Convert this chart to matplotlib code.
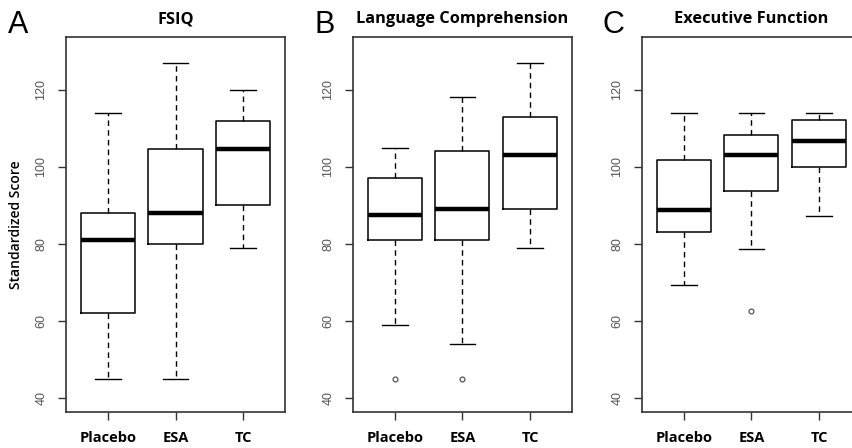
import numpy as np
import matplotlib.pyplot as plt

# Box statistics (whisker low, Q1, median, Q3, whisker high)
groups = ['Placebo', 'ESA', 'TC']
titles = ['FSIQ', 'Language Comprehension', 'Executive Function']
letters = ['A', 'B', 'C']

fsiq_low = [45, 45, 79]
fsiq_q1 = [62, 80, 90]
fsiq_med = [81, 88, 104.5]
fsiq_q3 = [88, 104.5, 112]
fsiq_high = [114, 127, 120]
fsiq_out = [[], [], []]

lang_low = [59, 54, 79]
lang_q1 = [81, 81, 89]
lang_med = [87.5, 89, 103]
lang_q3 = [97, 104, 113]
lang_high = [105, 118, 127]
lang_out = [[45], [45], []]

exec_low = [69.4, 78.6, 87.2]
exec_q1 = [83, 93.8, 100]
exec_med = [88.7, 103, 106.6]
exec_q3 = [101.7, 108.2, 112.2]
exec_high = [114, 114, 114]
exec_out = [[], [62.6], []]

panels = [
    (fsiq_low, fsiq_q1, fsiq_med, fsiq_q3, fsiq_high, fsiq_out),
    (lang_low, lang_q1, lang_med, lang_q3, lang_high, lang_out),
    (exec_low, exec_q1, exec_med, exec_q3, exec_high, exec_out),
]

lefts = [0.0774, 0.4138, 0.7526]
letter_x = [0.0094, 0.369, 0.706]

fig = plt.figure(figsize=(8.53, 4.48), dpi=100)

for i, (low, q1, med, q3, high, out) in enumerate(panels):
    ax = fig.add_axes([lefts[i], 0.080, 0.2567, 0.837])
    stats = []
    for j in range(len(groups)):
        stats.append(dict(whislo=low[j], q1=q1[j], med=med[j], q3=q3[j],
                          whishi=high[j], fliers=out[j], label=groups[j]))
    ax.bxp(stats, positions=[1, 2, 3], widths=0.8, capwidths=0.38,
           boxprops=dict(color='black', linewidth=1.1),
           medianprops=dict(color='black', linewidth=3.2),
           whiskerprops=dict(color='black', linewidth=1, linestyle=(0, (4, 3))),
           capprops=dict(color='black', linewidth=1),
           flierprops=dict(marker='o', markersize=3.5, markerfacecolor='none',
                           markeredgecolor='#555555', markeredgewidth=0.9))
    ax.set_xlim(0.38, 3.62)
    ax.set_ylim(36.4, 133.6)
    ax.set_yticks([40, 60, 80, 100, 120])
    ax.set_xticks([1, 2, 3])
    ax.set_xticklabels(groups, fontfamily='Open Sans', fontweight='bold', fontsize=10.5)
    for lab in ax.get_yticklabels():
        lab.set_rotation(90)
        lab.set_va('center')
        lab.set_fontfamily('Liberation Sans')
        lab.set_fontsize(9)
        lab.set_color('#555555')
    ax.tick_params(axis='both', length=6, width=1, color='#333333')
    ax.tick_params(axis='y', pad=7.5)
    ax.tick_params(axis='x', pad=7.5)
    for sp in ax.spines.values():
        sp.set_color('#333333')
        sp.set_linewidth(1.2)
    ax.set_title(titles[i], fontfamily='Open Sans', fontweight='bold',
                 fontsize=11.8, pad=10)
    fig.text(letter_x[i], 0.926, letters[i], fontfamily='Liberation Sans',
             fontsize=22, ha='left', va='baseline')
    if i == 0:
        ax.set_ylabel('Standardized Score', fontfamily='Open Sans',
                      fontweight='semibold', fontsize=10, labelpad=9)

fig.savefig('out.png', dpi=100)
